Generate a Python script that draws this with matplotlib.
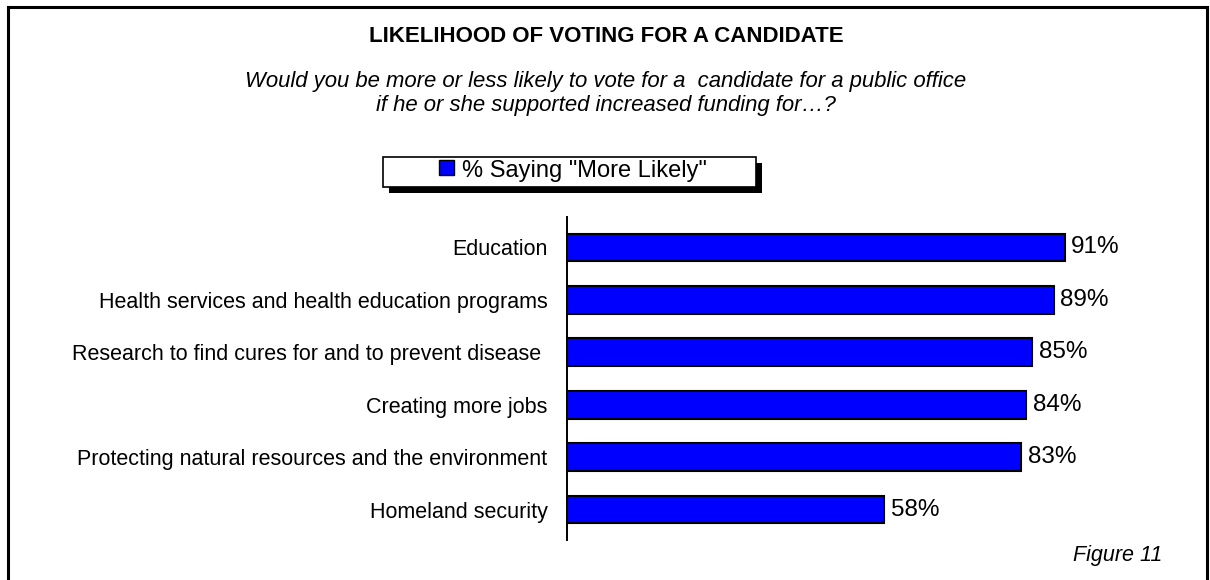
import matplotlib
matplotlib.use("Agg")
import matplotlib.pyplot as plt
from matplotlib.patches import Rectangle
from matplotlib.lines import Line2D

categories = ["Education",
              "Health services and health education programs",
              "Research to find cures for and to prevent disease ",
              "Creating more jobs",
              "Protecting natural resources and the environment",
              "Homeland security"]
values = [91, 89, 85, 84, 83, 58]
value_labels = ["91%", "89%", "85%", "84%", "83%", "58%"]
series_name = '% Saying "More Likely"'
title = "LIKELIHOOD OF VOTING FOR A CANDIDATE"
subtitle_lines = ["Would you be more or less likely to vote for a  candidate for a public office",
                  "if he or she supported increased funding for\u2026?"]
footnote = "Figure 11"

plt.rcParams['font.family'] = ['Liberation Sans', 'DejaVu Sans']

W, H = 1210, 580
fig = plt.figure(figsize=(W / 100, H / 100), dpi=100)

def fx(px):
    return px / W

def fy(py):
    return 1 - py / H

# outer border (bottom edge runs off the image)
for xs, ys in [((8, 8), (7, 600)), ((8, 1207), (7, 7)), ((1207, 1207), (7, 600))]:
    fig.add_artist(Line2D([fx(x) for x in xs], [fy(y) for y in ys], color="black",
                          lw=2.2, transform=fig.transFigure, solid_capstyle="projecting"))

fig.text(fx(606), fy(37), title, ha="center", va="center", fontsize=16, fontweight="bold")
for yy, line in zip([81, 105], subtitle_lines):
    fig.text(fx(606), fy(yy), line, ha="center", va="center", fontsize=15.9, style="italic")

# legend box with shadow
lx0, ly0, lx1, ly1 = 383, 157, 756, 187
fig.add_artist(Rectangle((fx(lx0 + 6), fy(ly1 + 6)), fx(lx1 - lx0), (ly1 - ly0) / H,
                         transform=fig.transFigure, facecolor="black", edgecolor="black", lw=0))
fig.add_artist(Rectangle((fx(lx0), fy(ly1)), fx(lx1 - lx0), (ly1 - ly0) / H,
                         transform=fig.transFigure, facecolor="white", edgecolor="black", lw=1.2))
fig.add_artist(Rectangle((fx(439), fy(175)), fx(15), 15 / H, transform=fig.transFigure,
                         facecolor="#0000FF", edgecolor="black", lw=1.0))
fig.text(fx(462), fy(171), series_name, ha="left", va="center", fontsize=17)

ax = fig.add_axes([fx(567), fy(540), fx(1114 - 567), (540 - 217) / H])
y = list(range(len(categories)))
ax.barh(y, values, height=0.53, color="#0000FF", edgecolor="black", linewidth=1.5)
for yi, v, lab in zip(y, values, value_labels):
    ax.text(v + 1.2, yi, lab, ha="left", va="center", fontsize=17.5)
ax.set_xlim(0, 100)
ax.set_ylim(5.58, -0.58)
ax.set_yticks(y)
ax.set_yticklabels(categories, fontsize=15.5)
ax.tick_params(axis="y", length=0, pad=14)
ax.set_xticks([])
for s in ["top", "right", "bottom"]:
    ax.spines[s].set_visible(False)
ax.spines["left"].set_linewidth(1.4)
ax.patch.set_alpha(0)

fig.text(fx(1162), fy(556), footnote, ha="right", va="center", fontsize=15.5, style="italic")

fig.savefig("out.png", dpi=100)
